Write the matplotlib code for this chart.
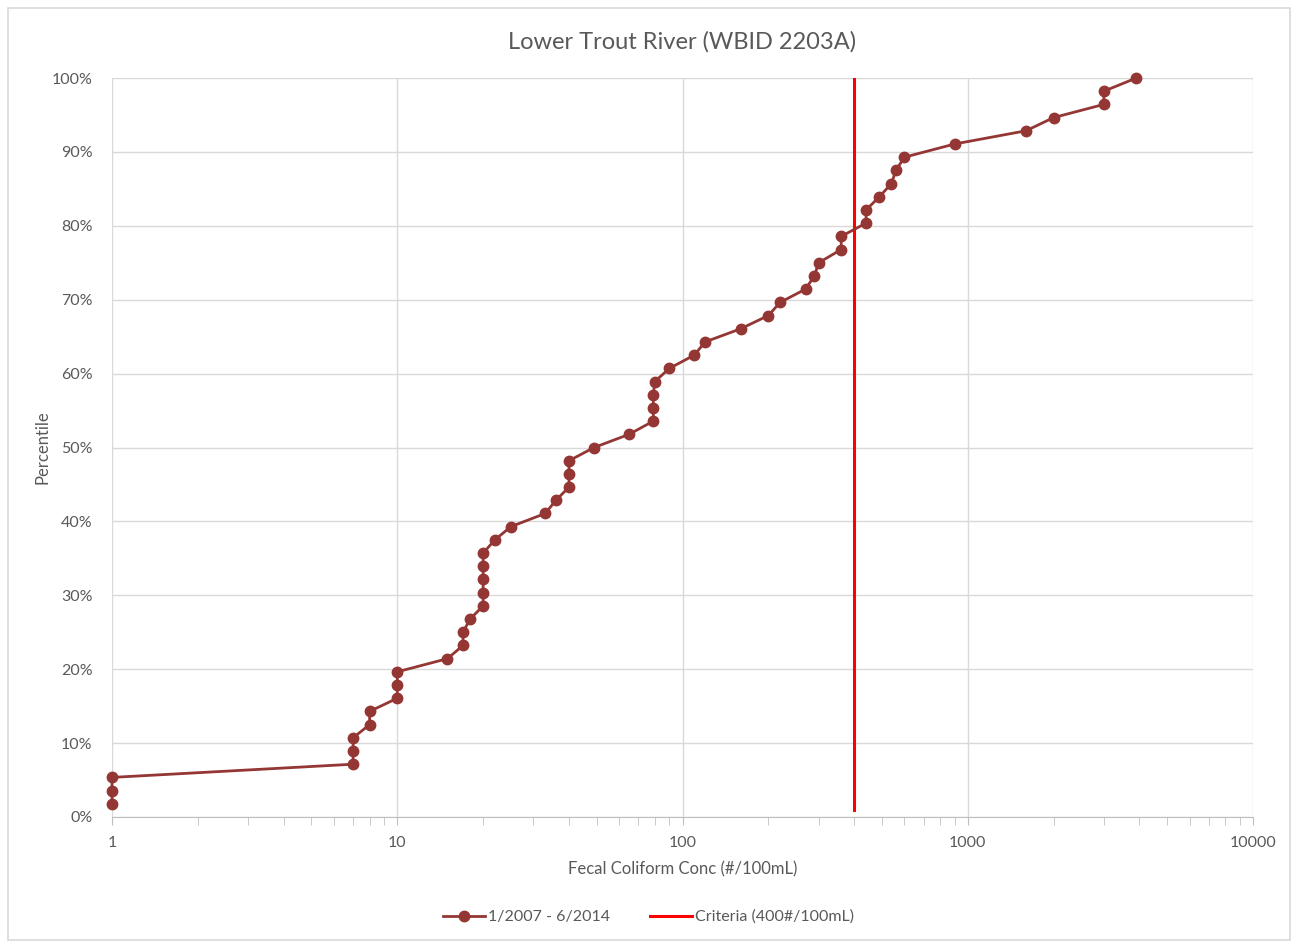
import matplotlib.pyplot as plt
from matplotlib.patches import Rectangle
from matplotlib.ticker import FixedLocator, FuncFormatter, LogLocator, NullFormatter

# Sorted fecal coliform samples, 1/2007 - 6/2014 (#/100mL)
conc = [1, 1, 1, 7, 7, 7, 8, 8, 10, 10, 10, 15, 17, 17, 18, 20, 20, 20, 20, 20,
        22, 25, 33, 36, 40, 40, 40, 49, 65, 79, 79, 79, 80, 90, 110, 120, 160,
        200, 220, 270, 290, 300, 360, 360, 440, 440, 490, 540, 560, 600, 900,
        1600, 2000, 3000, 3000, 3900]
percentile = [(i + 1) / len(conc) for i in range(len(conc))]

criteria_x = [400, 400]
criteria_y = [0.01, 1.0]

title = "Lower Trout River (WBID 2203A)"
series_label = "1/2007 - 6/2014"
criteria_label = "Criteria (400#/100mL)"

plt.rcParams['font.family'] = ['Lato', 'DejaVu Sans']
text_color = '#595959'
grid_color = '#d9d9d9'

fig = plt.figure(figsize=(12.97, 9.42), dpi=100)
ax = fig.add_axes([112 / 1297, 1 - 817 / 942, (1253 - 112) / 1297, (817 - 78) / 942])

# chart border
fig.patches.append(Rectangle((8 / 1297, 2 / 942), 1282 / 1297, 932 / 942,
                             transform=fig.transFigure, fill=False,
                             edgecolor='#d9d9d9', linewidth=1.2))

ax.plot(conc, percentile, color='#943634', linewidth=2, marker='o',
        markersize=7.5, label=series_label, zorder=3, clip_on=False)
ax.plot(criteria_x, criteria_y, color='#ff0000', linewidth=2.2,
        label=criteria_label, zorder=2)

ax.set_xscale('log')
ax.set_xlim(1, 10000)
ax.set_ylim(0, 1)

ax.xaxis.set_major_locator(FixedLocator([1, 10, 100, 1000, 10000]))
ax.xaxis.set_major_formatter(FuncFormatter(lambda v, p: f"{v:g}"))
ax.xaxis.set_minor_locator(LogLocator(base=10, subs=range(2, 10)))
ax.xaxis.set_minor_formatter(NullFormatter())
ax.set_yticks([i / 10 for i in range(11)])
ax.yaxis.set_major_formatter(FuncFormatter(lambda v, p: f"{v * 100:.0f}%"))

ax.grid(True, which='major', color=grid_color, linewidth=1)
ax.set_axisbelow(True)
for side in ['top', 'right', 'left']:
    ax.spines[side].set_visible(False)
ax.spines['bottom'].set_color('#bfbfbf')
ax.tick_params(axis='x', which='both', direction='out', length=6,
               color='#bfbfbf', labelcolor=text_color, labelsize=11.5, pad=8)
ax.tick_params(axis='y', length=0, labelcolor=text_color, labelsize=11.5, pad=14)

ax.set_title(title, fontsize=17, color=text_color, pad=21)
ax.set_xlabel("Fecal Coliform Conc (#/100mL)", fontsize=12, color=text_color, labelpad=8)
ax.set_ylabel("Percentile", fontsize=12, color=text_color, labelpad=1)

fig.legend(loc='center', bbox_to_anchor=(0.5, 1 - 917 / 942), ncol=2, frameon=False,
           fontsize=11.5, labelcolor=text_color, handlelength=2.6,
           handletextpad=0.2, columnspacing=2.5)

fig.savefig('out.png', dpi=100, facecolor='white')
